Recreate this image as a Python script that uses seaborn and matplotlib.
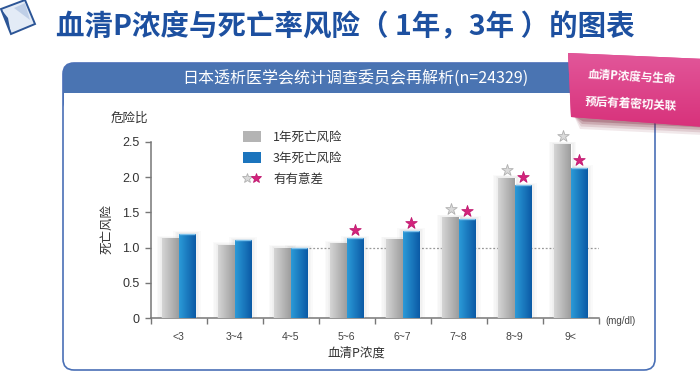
import numpy as np
import pandas as pd
import matplotlib
matplotlib.use('Agg')
import matplotlib.pyplot as plt
import seaborn as sns
from matplotlib.patches import Polygon, FancyBboxPatch, Rectangle, Patch
from matplotlib.lines import Line2D
from matplotlib.legend_handler import HandlerTuple
from matplotlib.colors import LinearSegmentedColormap

# ---------------- data ----------------
categories = ['<3', '3~4', '4~5', '5~6', '6~7', '7~8', '8~9', '9<']
risk_1yr = [1.13, 1.04, 1.00, 1.06, 1.12, 1.43, 1.99, 2.47]
risk_3yr = [1.20, 1.11, 1.00, 1.13, 1.24, 1.41, 1.88, 2.13]
sig_1yr = [False, False, False, False, False, True, True, True]
sig_3yr = [False, False, False, True, True, True, True, True]
series_names = ['1年死亡风险', '3年死亡风险']
sig_label = '有有意差'
y_ticks = [0, 0.5, 1.0, 1.5, 2.0, 2.5]
y_tick_labels = ['0', '0.5', '1.0', '1.5', '2.0', '2.5']
reference_level = 1.0

title = '血清P浓度与死亡率风险（ 1年，3年 ）的图表'
panel_title = '日本透析医学会统计调查委员会再解析(n=24329)'
sticker_lines = ['血清P浓度与生命', '预后有着密切关联']

df = pd.DataFrame({
    'P': categories * 2,
    'risk': risk_1yr + risk_3yr,
    'series': [series_names[0]] * len(categories) + [series_names[1]] * len(categories),
})

sns.set_theme(style='ticks')
plt.rcParams['font.family'] = ['Noto Sans CJK SC', 'DejaVu Sans']

W, H = 700, 373
fig = plt.figure(figsize=(7.0, 3.73), dpi=100)
fig.patch.set_facecolor('white')

# ---------------- decorative background layer (pixel coords) ----------------
bg = fig.add_axes([0, 0, 1, 1], zorder=0)
bg.set_xlim(0, W)
bg.set_ylim(H, 0)
bg.axis('off')

# logo
bg.add_patch(Polygon([(1, 9), (25, 0), (35, 24), (11, 34)], closed=True,
                     fc='#e3ebf6', ec='#2c5596', lw=1.4))
bg.add_patch(Polygon([(1, 9), (11, 34), (8, 18)], closed=True, fc='#2c5596', ec='none'))
bg.add_patch(Polygon([(14, 8), (25, 3), (30, 20)], closed=True, fc='#b7c9e4', ec='none', alpha=0.8))

# title
bg.text(56, 27, title, fontsize=20.5, fontweight='bold', color='#1d50a0',
        ha='left', va='center')

# panel
bg.add_patch(FancyBboxPatch((63, 63), 592, 50, boxstyle='round,pad=0,rounding_size=11',
                            fc='#4a74b2', ec='none'))
bg.add_patch(Rectangle((63.5, 93), 591, 276, fc='white', ec='none'))
bg.add_patch(FancyBboxPatch((63, 63), 592, 307, boxstyle='round,pad=0,rounding_size=11',
                            fc='none', ec='#4a70b6', lw=1.2))
bg.text(355, 79, panel_title, fontsize=11.5, color='white', ha='center', va='center')

# sticker shadow + sticker
for k, a in enumerate([0.10, 0.14, 0.20, 0.28]):
    d = 10 - 2.5 * k
    bg.add_patch(Polygon([(574, 116), (703, 124), (703, 125 + d), (580 + k, 119 + d)],
                         closed=True, fc='#7a2438', ec='none', alpha=a))
sticker = Polygon([(568, 53), (705, 59), (705, 127), (571, 117)], closed=True,
                  fc='#dc3d85', ec='none')
bg.add_patch(sticker)
sg = np.linspace(0, 1, 64).reshape(-1, 1)
im = bg.imshow(sg, extent=[565, 706, 127, 52], aspect='auto',
               cmap=LinearSegmentedColormap.from_list('s', ['#e2579a', '#d8327b']),
               interpolation='bilinear', zorder=3)
im.set_clip_path(sticker)
bg.text(632, 77, sticker_lines[0], fontsize=8.3, fontweight='bold', color='white',
        ha='center', va='center', rotation=-3, zorder=4)
bg.text(631, 103.5, sticker_lines[1], fontsize=8.3, fontweight='bold', color='white',
        ha='center', va='center', rotation=-3, zorder=4)
bg.set_xlim(0, W)
bg.set_ylim(H, 0)

# axis texts
bg.text(129, 118, '危险比', fontsize=9, color='#333333', ha='center', va='center')
bg.text(107, 229, '死亡风险', fontsize=9, color='#333333', ha='center', va='center',
        rotation=90)
bg.text(356, 353, '血清P浓度', fontsize=9, color='#333333', ha='center', va='center')
bg.text(605, 321, '(mg/dl)', fontsize=7, color='#444444', ha='left', va='center',
        family='Liberation Sans')

# ---------------- main chart ----------------
ax = fig.add_axes([150.7 / W, 54.7 / H, 448 / W, 176.6 / H], zorder=2)
ax.patch.set_alpha(0)

gray_c = '#b4b4b4'
blue_c = '#1b74bd'
sns.barplot(data=df, x='P', y='risk', hue='series', palette=[gray_c, blue_c],
            width=0.58, gap=0, saturation=1, legend=False, ax=ax, zorder=3)

ax.hlines(reference_level, 2.32, 7.5, colors='#9a9a9a', linestyles=(0, (1.5, 1.5)),
          lw=0.9, zorder=1)


def grad_fill(patch, c_left, c_right, top_color=None):
    x0, y0 = patch.get_x(), patch.get_y()
    w, h = patch.get_width(), patch.get_height()
    cmap = LinearSegmentedColormap.from_list('g', [c_left, c_right])
    g = np.linspace(0, 1, 64).reshape(1, -1)
    img = ax.imshow(g, extent=[x0, x0 + w, y0, y0 + h], aspect='auto', cmap=cmap,
                    origin='lower', interpolation='bilinear', zorder=3.1)
    img.set_clip_path(patch)
    if top_color is not None:
        ax.plot([x0, x0 + w], [y0 + h, y0 + h], color=top_color, lw=1.0, zorder=3.2,
                solid_capstyle='butt')


def soft_shadow(patch):
    x0, y0 = patch.get_x(), patch.get_y()
    w, h = patch.get_width(), patch.get_height()
    for k in range(1, 5):
        e = 0.025 * k
        ax.add_patch(Rectangle((x0 - e, y0), w + 2 * e, h + e * 0.35, fc='#000000',
                               ec='none', alpha=0.018, zorder=2))


gray_bars = ax.containers[0]
blue_bars = ax.containers[1]
for p in list(gray_bars) + list(blue_bars):
    soft_shadow(p)
for p in gray_bars:
    grad_fill(p, '#d5d5d5', '#9d9d9d')
for p in blue_bars:
    grad_fill(p, '#2b9ad8', '#0b5aa5', top_color='#7cc0ea')

# significance stars
for bars, sig, vals, fc, ec in [(gray_bars, sig_1yr, risk_1yr, '#dadada', '#b0b0b0'),
                                 (blue_bars, sig_3yr, risk_3yr, '#d4237c', '#c01a70')]:
    xs = [p.get_x() + p.get_width() / 2 for p, s in zip(bars, sig) if s]
    ys = [v + 0.115 for v, s in zip(vals, sig) if s]
    ax.scatter(xs, ys, marker='*', s=75, c=fc, edgecolors=ec, linewidths=0.6, zorder=5,
               clip_on=False)

ax.set_xlim(-0.5, 7.5)
ax.set_ylim(0, 2.5)
ax.set_xlabel('')
ax.set_ylabel('')
ax.set_xticks(range(len(categories)))
ax.set_xticklabels(categories, fontsize=7.5, color='#444444', family='Liberation Sans')
ax.set_xticks(np.arange(-0.5, len(categories), 1), minor=True)
ax.tick_params(axis='x', which='major', length=0, pad=10)
ax.tick_params(axis='x', which='minor', length=4, width=1, color='#777777', direction='out')
ax.set_yticks(y_ticks)
ax.set_yticklabels(y_tick_labels, fontsize=9, color='#333333', family='Liberation Sans')
ax.tick_params(axis='y', length=4, width=1, color='#777777', pad=4)
sns.despine(ax=ax)
for s in ['left', 'bottom']:
    ax.spines[s].set_color('#777777')
    ax.spines[s].set_linewidth(1.1)

# legend
handles = [Patch(fc=gray_c, ec='none'), Patch(fc=blue_c, ec='none'),
           (Line2D([], [], marker='*', ls='none', ms=7, mfc='#dadada', mec='#b0b0b0', mew=0.6),
            Line2D([], [], marker='*', ls='none', ms=7, mfc='#d4237c', mec='#c01a70', mew=0.6))]
leg = ax.legend(handles, series_names + [sig_label], loc='upper left',
                bbox_to_anchor=(243 / W, 1 - 131 / H), bbox_transform=fig.transFigure,
                frameon=False, fontsize=9, handlelength=1.4, handleheight=1.0,
                handletextpad=1.0, labelspacing=0.62, borderpad=0, borderaxespad=0,
                handler_map={tuple: HandlerTuple(ndivide=None, pad=0.1)})
for t in leg.get_texts():
    t.set_color('#333333')

fig.savefig('out.png', dpi=100, facecolor='white')
